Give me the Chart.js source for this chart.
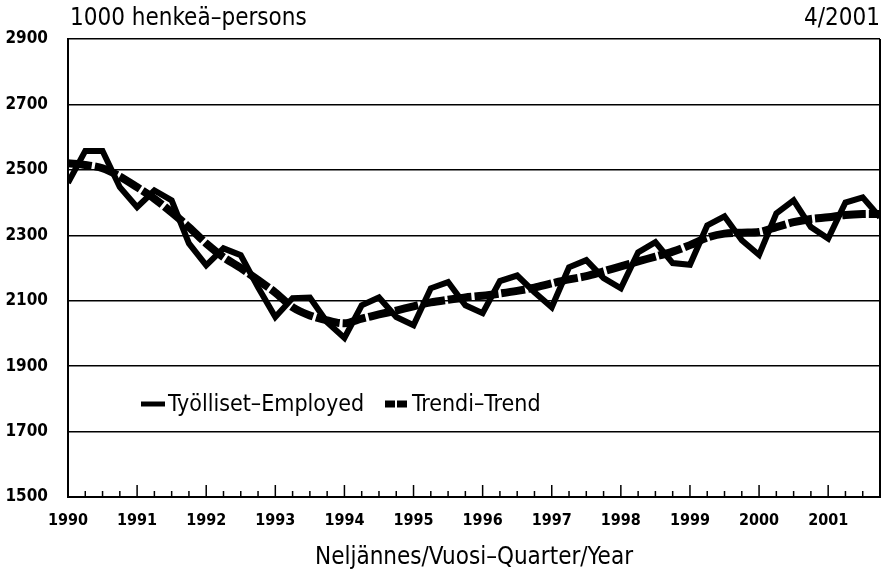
<!DOCTYPE html>
<html>
<head>
<meta charset="utf-8">
<script src="https://cdn.jsdelivr.net/npm/chart.js@4"></script>
<style>
html,body{margin:0;padding:0;background:#fff;}
#wrap{width:884px;height:582px;}
</style>
</head>
<body>
<div id="wrap"><canvas id="c" width="884" height="582"></canvas></div>
<script>
const years = ['1990','1991','1992','1993','1994','1995','1996','1997','1998','1999','2000','2001'];
const employed = [
  2460, 2558, 2558, 2447,
  2386, 2437, 2407, 2275,
  2208, 2260, 2239, 2141,
  2050, 2108, 2110, 2034,
  1986, 2086, 2110, 2050,
  2025, 2138, 2157, 2086,
  2062, 2160, 2177, 2126,
  2080, 2202, 2224, 2169,
  2138, 2248, 2279, 2215,
  2210, 2330, 2358, 2285,
  2240, 2367, 2407, 2325,
  2290, 2400, 2416, 2355
];
const trend = [
  2520, 2515, 2505, 2480,
  2447, 2412, 2370, 2325,
  2275, 2233, 2200, 2163,
  2125, 2080, 2055, 2040,
  2031, 2045, 2058, 2070,
  2083, 2095, 2103, 2110,
  2115, 2122, 2130, 2140,
  2153, 2165, 2175, 2190,
  2205, 2220, 2235, 2250,
  2270, 2293, 2305, 2308,
  2310, 2325, 2340, 2350,
  2355, 2362, 2365, 2365
];
const yTicks = [1500, 1700, 1900, 2100, 2300, 2500, 2700, 2900];
const seriesLabels = ['Työlliset–Employed', 'Trendi–Trend'];
const titleLeft = '1000 henkeä–persons';
const titleRight = '4/2001';
const xTitle = 'Neljännes/Vuosi–Quarter/Year';

const FONT = "'Liberation Sans Narrow', 'DejaVu Sans Condensed', 'Roboto Condensed', sans-serif";

const toXY = arr => arr.map((v, i) => ({x: i, y: v}));

const extras = {
  id: 'extras',
  afterDraw(chart) {
    const {ctx, chartArea: a, scales} = chart;
    const xs = scales.x;
    ctx.save();
    // right border
    ctx.strokeStyle = '#000';
    ctx.lineWidth = 2;
    ctx.beginPath();
    ctx.moveTo(a.right, a.top);
    ctx.lineTo(a.right, a.bottom);
    ctx.stroke();
    // inward ticks
    ctx.lineWidth = 1.5;
    for (let i = 0; i < employed.length; i++) {
      const x = xs.getPixelForValue(i);
      const len = (i % 4 === 0) ? 12 : 6;
      ctx.beginPath();
      ctx.moveTo(x, a.bottom);
      ctx.lineTo(x, a.bottom - len);
      ctx.stroke();
    }
    // titles
    ctx.fillStyle = '#000';
    ctx.font = '24px ' + FONT;
    ctx.textBaseline = 'middle';
    ctx.textAlign = 'left';
    ctx.fillText(titleLeft, 70, 19);
    ctx.textAlign = 'right';
    ctx.fillText(titleRight, 880, 19);
    // legend
    const ds = chart.data.datasets;
    const items = [{x: 141}, {x: 385}];
    const ly = 404;
    ds.forEach((d, k) => {
      const it = items[k];
      ctx.strokeStyle = '#000';
      ctx.lineWidth = k === 0 ? 5 : 7;
      ctx.setLineDash(k === 0 ? [] : [10, 2]);
      ctx.beginPath();
      ctx.moveTo(it.x, ly);
      ctx.lineTo(it.x + 24, ly);
      ctx.stroke();
      ctx.setLineDash([]);
      ctx.textAlign = 'left';
      ctx.textBaseline = 'middle';
      ctx.font = '23px ' + FONT;
      ctx.fillText(d.label, it.x + 27, ly + 1);
    });
    ctx.restore();
  }
};

new Chart(document.getElementById('c'), {
  type: 'line',
  data: {
    datasets: [
      {
        label: seriesLabels[0],
        data: toXY(employed),
        borderColor: '#000',
        borderWidth: 6,
        pointRadius: 0,
        tension: 0,
        borderJoinStyle: 'miter'
      },
      {
        label: seriesLabels[1],
        data: toXY(trend),
        borderColor: '#000',
        borderWidth: 8,
        borderDash: [24, 3],
        pointRadius: 0,
        tension: 0.3
      }
    ]
  },
  options: {
    responsive: false,
    animation: false,
    devicePixelRatio: 1,
    layout: {padding: {top: 39, right: 4, bottom: 8, left: 0}},
    plugins: {legend: {display: false}, tooltip: {enabled: false}},
    scales: {
      x: {
        type: 'linear',
        min: 0,
        max: employed.length - 1,
        afterFit: s => { s.height = 77; },
        afterBuildTicks: s => { s.ticks = years.map((y, i) => ({value: i * 4})); },
        ticks: {
          autoSkip: false,
          maxRotation: 0,
          padding: 14,
          color: '#000',
          font: {family: FONT, size: 16, weight: 'bold'},
          callback: v => years[v / 4]
        },
        grid: {display: true, drawOnChartArea: false, drawTicks: false},
        border: {display: true, color: '#000', width: 2},
        title: {
          display: true,
          text: xTitle,
          color: '#000',
          font: {family: FONT, size: 24},
          padding: {top: 0, bottom: 2}
        }
      },
      y: {
        min: 1500,
        max: 2900,
        afterFit: s => { s.width = 68; },
        afterBuildTicks: s => { s.ticks = yTicks.map(v => ({value: v})); },
        ticks: {
          padding: 20,
          color: '#000',
          font: {family: FONT, size: 17, weight: 'bold'},
          callback: v => String(v)
        },
        grid: {color: '#000', lineWidth: 1.5, drawTicks: false},
        border: {display: true, color: '#000', width: 2}
      }
    }
  },
  plugins: [extras]
});
</script>
</body>
</html>
